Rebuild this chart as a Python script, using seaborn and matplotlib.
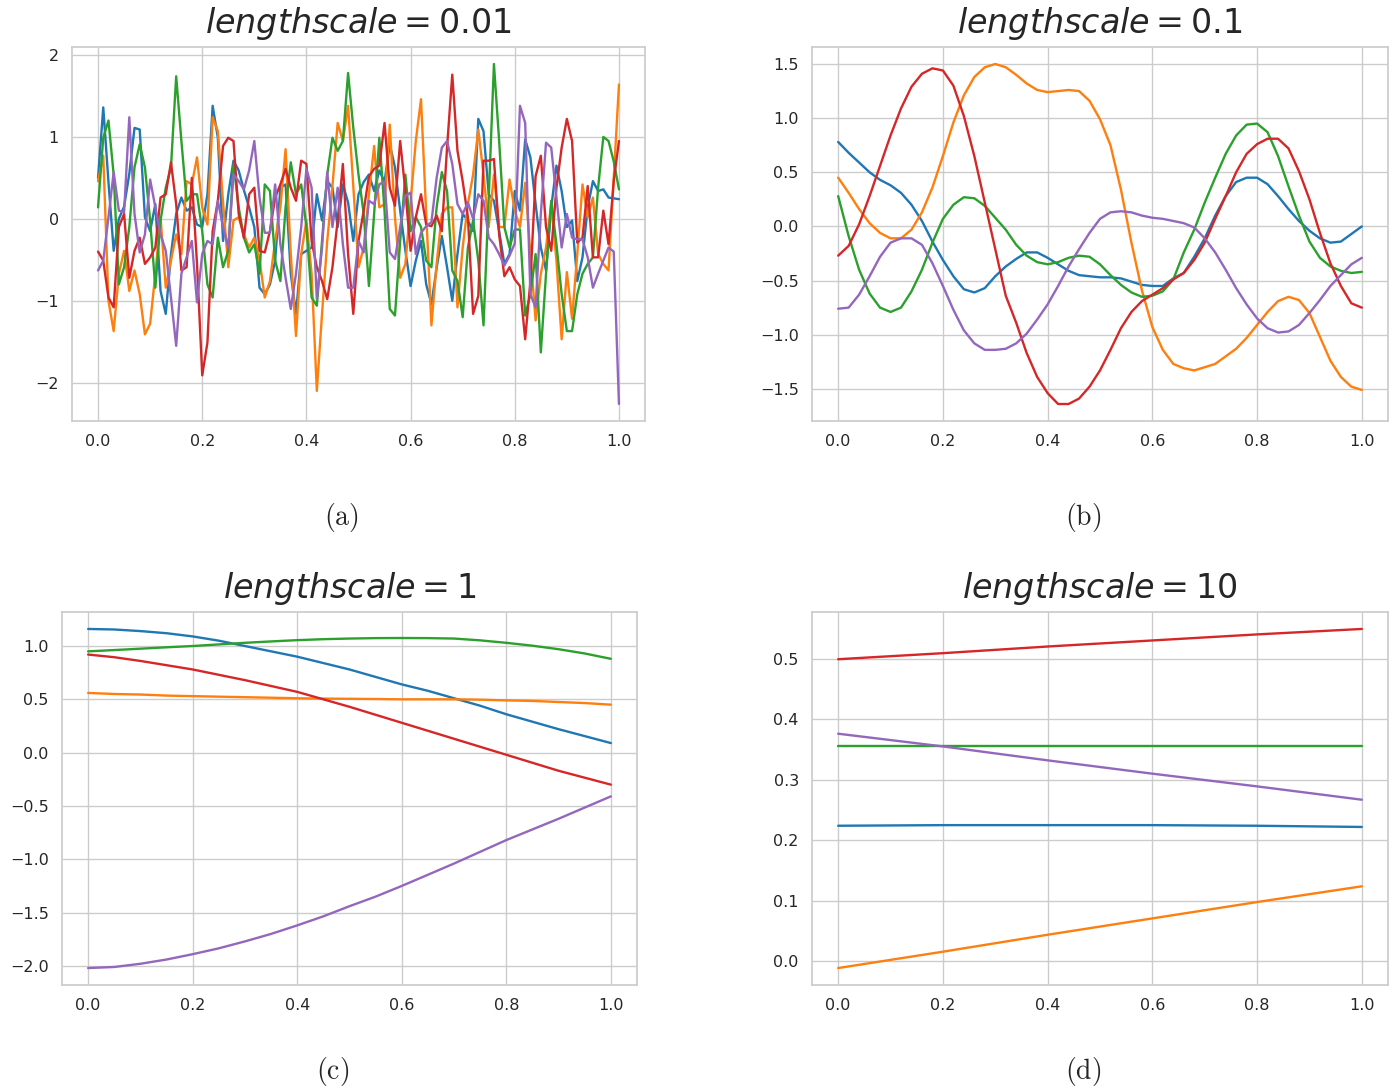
import numpy as np
import pandas as pd
import matplotlib
matplotlib.use('Agg')
import matplotlib.pyplot as plt
import seaborn as sns

names = ['s1', 's2', 's3', 's4', 's5']

# (a) lengthscale 0.01 -- values read at x = 0, 0.01, ..., 1.0
a_x = np.linspace(0, 1, 101)
a_blue = [0.50, 1.36, 0.45, -0.39, 0.00, 0.15, 0.55, 1.11, 1.09, 0.02,
          -0.15, 0.18, -0.88, -1.16, -0.43, 0.06, 0.26, 0.10, 0.14, -0.07,
          -0.10, 0.30, 1.38, 0.99, -0.27, 0.30, 0.71, 0.59, 0.35, 0.14,
          -0.10, -0.84, -0.92, -0.80, -0.51, 0.38, 0.42, -0.67, -1.16, -0.43,
          -0.39, -0.35, 0.30, -0.02, 0.46, 0.38, -0.10, 0.42, 0.20, -0.27,
          0.30, 0.45, 0.54, 0.34, 0.59, 0.45, 0.91, 0.63, 0.10, -0.39,
          -0.82, -0.51, -0.27, -0.80, -1.04, -0.60, -0.21, -0.59, -1.00, -0.43,
          0.06, -0.02, -0.15, 1.22, 1.07, 0.30, 0.22, -0.15, -0.55, -0.43,
          0.34, 0.10, 0.97, 0.75, 0.18, -0.35, -0.63, 0.14, 0.65, 0.34,
          -0.10, -0.02, -0.76, -0.47, 0.14, 0.46, 0.34, 0.36, 0.26, 0.25,
          0.24]
a_orange = [0.46, 0.77, -1.00, -1.37, -0.67, -0.39, -0.88, -0.63, -0.92, -1.41,
            -1.28, -0.67, 0.02, -0.84, -0.51, -0.19, -0.43, 0.46, 0.42, 0.75,
            0.14, -0.07, 1.24, 1.07, 0.20, -0.59, -0.02, 0.02, -0.19, -0.35,
            -0.23, -0.50, -0.96, -0.76, -0.27, 0.14, 0.85, -0.43, -1.43, -0.43,
            -0.02, -0.67, -2.10, -1.16, -0.27, 0.40, 1.17, 0.95, 1.38, 0.40,
            -0.59, -0.35, 0.30, 0.89, 0.14, 0.18, 1.15, 0.02, -0.72, -0.55,
            0.20, 0.95, 1.46, 0.06, -1.30, -0.55, 0.06, 0.14, 0.14, -1.08,
            -0.35, 0.18, 0.54, 1.09, 0.54, -0.10, 0.54, -0.10, -0.10, 0.48,
            0.10, -0.10, 0.44, -0.43, -1.24, -0.67, -0.35, 0.18, -0.51, -1.47,
            -0.65, -1.22, -0.43, 0.42, 0.02, 0.26, -0.43, -0.55, -0.63, 0.50,
            1.64]
a_green = [0.14, 0.99, 1.20, 0.54, -0.80, -0.59, -0.10, 0.63, 0.91, 0.63,
           -0.02, -0.84, -0.02, 0.38, 0.63, 1.74, 0.95, 0.22, 0.30, 0.30,
           -0.15, -0.80, -0.96, -0.23, -0.59, -0.39, 0.67, 0.14, -0.23, -0.41,
           -0.31, -0.67, 0.42, 0.34, -0.51, -0.76, 0.14, 0.69, 0.30, 0.42,
           -0.10, -0.96, -1.06, -0.27, 0.54, 0.99, 0.83, 0.95, 1.78, 1.11,
           0.54, 0.06, -0.82, 0.06, 0.99, 0.10, -1.10, -1.18, -0.27, 0.54,
           -0.15, 0.02, -0.10, -0.51, -0.59, 0.14, 0.57, 0.34, -0.63, -0.76,
           -1.20, -0.35, -0.02, -0.51, -1.30, 0.26, 1.89, 0.95, -0.10, -0.35,
           -0.13, -0.13, -1.18, -0.92, -0.43, -1.63, -0.67, 0.22, -0.31, -0.92,
           -1.37, -1.37, -0.92, -0.67, -0.55, -0.47, 0.38, 1.00, 0.95, 0.70,
           0.36]
a_red = [-0.40, -0.51, -0.96, -1.08, -0.10, 0.06, -0.72, -0.39, -0.23, -0.55,
         -0.47, -0.35, 0.26, 0.30, 0.69, 0.18, -0.63, -0.59, 0.50, -0.55,
         -1.91, -1.51, -0.15, 0.22, 0.89, 0.99, 0.95, 0.06, -0.23, 0.30,
         0.38, -0.39, -0.41, -0.15, 0.26, 0.42, 0.61, 0.38, 0.22, 0.71,
         0.67, -0.27, -0.59, -0.76, -0.98, -0.59, -0.02, 0.67, -0.43, -1.16,
         -0.27, 0.10, 0.52, 0.61, 0.65, 1.17, 0.38, 0.16, 0.95, 0.34,
         -0.39, 0.02, 0.30, -0.07, -0.09, 0.04, -0.15, 0.87, 1.76, 0.83,
         0.46, 0.02, -1.16, -0.94, 0.71, 0.71, 0.73, -0.19, -0.70, -0.59,
         -0.74, -0.82, -1.47, -0.76, 0.52, 0.77, -0.10, -0.39, 0.38, 0.87,
         1.22, 0.95, -0.29, -0.23, 0.40, -0.47, -0.47, 0.10, -0.31, 0.46,
         0.95]
a_purple = [-0.63, -0.51, 0.02, 0.57, 0.10, 0.08, 1.24, 0.06, -0.41, -0.19,
            0.48, 0.14, -0.19, -0.39, -0.96, -1.55, -0.67, -0.47, -0.27, -1.02,
            -0.43, -0.27, -0.31, 0.22, -0.10, -0.35, 0.54, 0.46, 0.36, 0.59,
            0.95, 0.26, -0.17, -0.17, 0.42, -0.31, -0.72, -1.10, -0.67, -0.10,
            0.61, 0.38, -0.98, -0.35, 0.57, -0.10, 0.38, -0.31, -0.84, -0.84,
            -0.27, -0.41, 0.22, 0.18, 0.42, 0.46, -0.41, -0.49, -0.10, 0.28,
            0.32, -0.43, -0.17, -0.09, -0.04, 0.50, 0.87, 0.95, 0.67, 0.18,
            0.06, 0.20, 0.00, 0.30, 0.22, -0.23, -0.31, -0.43, -0.57, -0.45,
            -0.30, 1.38, 1.17, -0.92, -1.08, 0.06, 0.93, 0.87, 0.26, -0.35,
            0.06, -0.23, -0.25, -0.25, -0.47, -0.84, -0.67, -0.51, -0.35, -0.40,
            -2.26]

# (b) lengthscale 0.1 -- values read at x = 0, 0.02, ..., 1.0
b_x = np.linspace(0, 1, 51)
b_blue = [0.78, 0.68, 0.59, 0.50, 0.43, 0.38, 0.31, 0.20, 0.05, -0.14,
          -0.31, -0.46, -0.58, -0.61, -0.57, -0.46, -0.37,
          -0.30, -0.24, -0.24, -0.29, -0.35, -0.41, -0.45, -0.46, -0.47,
          -0.47, -0.48, -0.51, -0.54, -0.55, -0.55, -0.48,
          -0.43, -0.28, -0.11, 0.10, 0.28, 0.41, 0.45, 0.45, 0.39,
          0.28, 0.16, 0.05, -0.04, -0.11, -0.15, -0.14, -0.07, 0.00]
b_orange = [0.45, 0.31, 0.16, 0.03, -0.06, -0.11, -0.11, -0.03, 0.13, 0.36,
            0.65, 0.96, 1.21, 1.38, 1.47, 1.50, 1.47,
            1.40, 1.32, 1.26, 1.24, 1.25, 1.26, 1.25, 1.16, 0.99,
            0.75, 0.34, -0.15, -0.59, -0.93, -1.14, -1.27,
            -1.31, -1.33, -1.30, -1.27, -1.20, -1.13, -1.03, -0.91, -0.79,
            -0.69, -0.65, -0.68, -0.80, -1.02, -1.24, -1.39, -1.48, -1.51]
b_green = [0.28, -0.09, -0.40, -0.62, -0.75, -0.79, -0.75, -0.60, -0.40, -0.15,
           0.07, 0.20, 0.27, 0.26, 0.19, 0.08, -0.03,
           -0.17, -0.27, -0.33, -0.35, -0.33, -0.29, -0.27, -0.28, -0.35,
           -0.45, -0.54, -0.61, -0.65, -0.64, -0.60, -0.49,
           -0.24, -0.03, 0.22, 0.45, 0.67, 0.84, 0.94, 0.95, 0.87,
           0.65, 0.37, 0.10, -0.14, -0.29, -0.37, -0.41, -0.43, -0.42]
b_red = [-0.27, -0.18, 0.02, 0.28, 0.56, 0.84, 1.09, 1.29, 1.41, 1.46,
         1.44, 1.30, 1.02, 0.65, 0.22, -0.21, -0.64,
         -0.89, -1.17, -1.39, -1.54, -1.64, -1.64, -1.59, -1.48, -1.33,
         -1.14, -0.94, -0.79, -0.69, -0.63, -0.57, -0.49,
         -0.43, -0.31, -0.15, 0.07, 0.28, 0.50, 0.67, 0.76, 0.81,
         0.81, 0.72, 0.51, 0.25, -0.06, -0.34, -0.55, -0.71, -0.75]
b_purple = [-0.76, -0.75, -0.63, -0.46, -0.28, -0.15, -0.11, -0.11, -0.17, -0.34,
            -0.55, -0.77, -0.96, -1.08, -1.14, -1.14, -1.13,
            -1.08, -0.99, -0.86, -0.72, -0.55, -0.37, -0.21, -0.06, 0.07,
            0.13, 0.14, 0.13, 0.10, 0.08, 0.07, 0.05,
            0.03, -0.01, -0.11, -0.24, -0.40, -0.57, -0.72, -0.85, -0.94,
            -0.98, -0.97, -0.91, -0.80, -0.68, -0.55, -0.45, -0.35, -0.29]

# (c) lengthscale 1 -- values read at x = 0, 0.05, ..., 1.0
c_x = np.linspace(0, 1, 21)
c_blue = [1.16, 1.155, 1.14, 1.12, 1.09, 1.05, 1.00, 0.95, 0.90, 0.84, 0.78,
          0.71, 0.64, 0.58, 0.51, 0.44, 0.36, 0.29, 0.22, 0.155, 0.09]
c_orange = [0.56, 0.55, 0.545, 0.535, 0.53, 0.525, 0.52, 0.515, 0.51, 0.507, 0.505,
            0.503, 0.50, 0.50, 0.50, 0.497, 0.49, 0.485, 0.475, 0.465, 0.45]
c_green = [0.95, 0.962, 0.975, 0.988, 1.00, 1.015, 1.03, 1.043, 1.055, 1.064, 1.07,
           1.074, 1.075, 1.074, 1.07, 1.053, 1.03, 1.003, 0.97, 0.93, 0.88]
c_red = [0.92, 0.895, 0.86, 0.82, 0.78, 0.73, 0.68, 0.625, 0.57, 0.50, 0.43,
         0.355, 0.28, 0.205, 0.13, 0.055, -0.02, -0.095, -0.17, -0.235, -0.30]
c_purple = [-2.02, -2.01, -1.98, -1.94, -1.89, -1.835, -1.77, -1.70, -1.62, -1.535, -1.44,
            -1.35, -1.25, -1.145, -1.04, -0.93, -0.82, -0.72, -0.62, -0.515, -0.41]

# (d) lengthscale 10
d_x = [0, 0.2, 0.4, 0.6, 0.8, 1.0]
d_blue = [0.224, 0.225, 0.225, 0.225, 0.224, 0.222]
d_orange = [-0.011, 0.016, 0.044, 0.071, 0.098, 0.124]
d_green = [0.355, 0.355, 0.355, 0.355, 0.355, 0.355]
d_red = [0.499, 0.509, 0.520, 0.530, 0.540, 0.549]
d_purple = [0.376, 0.355, 0.332, 0.310, 0.289, 0.267]

titles = [r'$lengthscale = 0.01$', r'$lengthscale = 0.1$',
          r'$lengthscale = 1$', r'$lengthscale = 10$']
captions = ['(a)', '(b)', '(c)', '(d)']


def frame(x, ys):
    parts = []
    for name, y in zip(names, ys):
        parts.append(pd.DataFrame({'x': x, 'y': y, 'sample': name}))
    return pd.concat(parts, ignore_index=True)


panels = [
    frame(a_x, [a_blue, a_orange, a_green, a_red, a_purple]),
    frame(b_x, [b_blue, b_orange, b_green, b_red, b_purple]),
    frame(c_x, [c_blue, c_orange, c_green, c_red, c_purple]),
    frame(d_x, [d_blue, d_orange, d_green, d_red, d_purple]),
]

sns.set_theme(style='whitegrid')
plt.rcParams['xtick.labelsize'] = 11.5
plt.rcParams['ytick.labelsize'] = 11.5

W, H = 1397, 1092
fig = plt.figure(figsize=(W / 100, H / 100), dpi=100)
boxes = [(72, 47, 645, 421), (812, 47, 1388, 421),
         (62, 612, 637, 985), (812, 612, 1388, 985)]
cap_pos = [(341, 518), (1083, 518), (333, 1072), (1083, 1072)]
colors = sns.color_palette('tab10', 5)

for i, df in enumerate(panels):
    x0, y0, x1, y1 = boxes[i]
    ax = fig.add_axes([x0 / W, 1 - y1 / H, (x1 - x0) / W, (y1 - y0) / H])
    sns.lineplot(data=df, x='x', y='y', hue='sample', palette=colors,
                 estimator=None, sort=True, legend=False, linewidth=1.7, ax=ax)
    ax.set_xlabel('')
    ax.set_ylabel('')
    ax.set_title(titles[i], fontsize=24, pad=10)
    cx, cy = cap_pos[i]
    fig.text(cx / W, 1 - cy / H, r'$\mathrm{' + captions[i] + '}$',
             math_fontfamily='cm', fontsize=20, ha='center', va='center')

fig.savefig('out.png', dpi=100)
